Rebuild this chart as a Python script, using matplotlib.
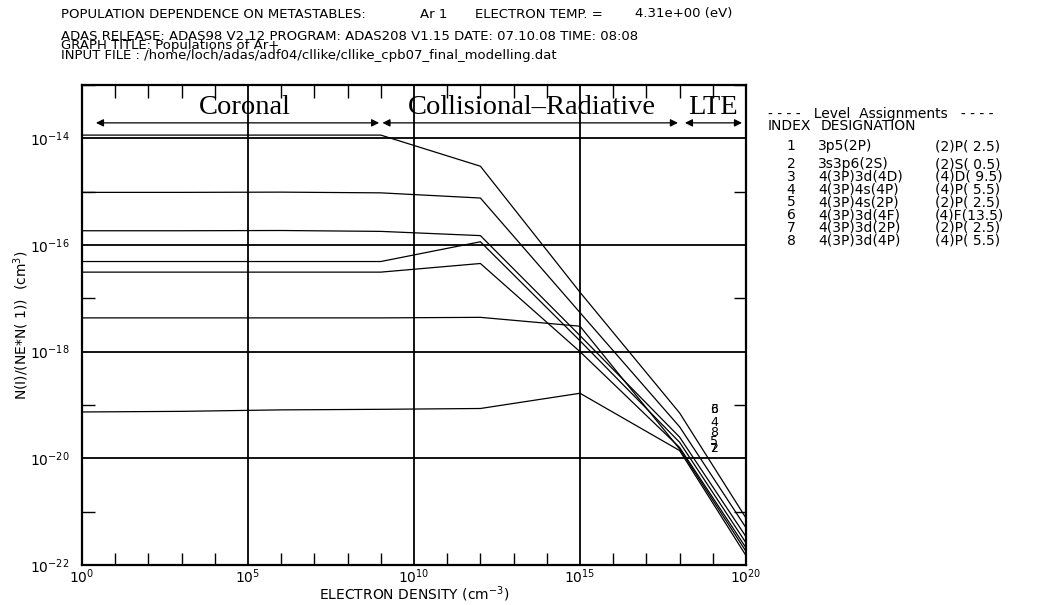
import numpy as np
import matplotlib
matplotlib.use('agg')
import matplotlib.pyplot as plt
from matplotlib.ticker import FixedLocator, NullFormatter

# electron density grid (cm-3)
dens = [1e0, 1e3, 1e6, 1e9, 1e12, 1e15, 1e18, 1e20]

# N(i)/(Ne*N(1)) for levels 2..8
pop_6 = [1.15e-14, 1.15e-14, 1.15e-14, 1.15e-14, 3.0e-15, 1.3e-17, 7.1e-20, 7.6e-22]
pop_4 = [9.7e-16, 9.7e-16, 9.8e-16, 9.5e-16, 7.6e-16, 5.4e-18, 3.9e-20, 5.0e-22]
pop_3 = [1.85e-16, 1.85e-16, 1.87e-16, 1.8e-16, 1.5e-16, 2.0e-18, 2.5e-20, 3.4e-22]
pop_8 = [4.9e-17, 4.9e-17, 4.9e-17, 4.9e-17, 1.15e-16, 1.6e-18, 2.0e-20, 2.6e-22]
pop_5 = [3.1e-17, 3.1e-17, 3.1e-17, 3.1e-17, 4.5e-17, 1.0e-18, 1.6e-20, 2.1e-22]
pop_7 = [4.3e-18, 4.3e-18, 4.3e-18, 4.3e-18, 4.4e-18, 3.0e-18, 1.5e-20, 1.8e-22]
pop_2 = [7.4e-20, 7.6e-20, 8.1e-20, 8.3e-20, 8.6e-20, 1.66e-19, 1.4e-20, 1.5e-22]
curves = [pop_6, pop_4, pop_3, pop_8, pop_5, pop_7, pop_2]

# end-of-curve labels and where they sit
end_labels = ['6', '3', '4', '8', '5', '7', '2']
end_label_y = [8.1e-20, 8.1e-20, 4.7e-20, 3.0e-20, 2.1e-20, 1.55e-20, 1.55e-20]

level_index = ['1', '2', '3', '4', '5', '6', '7', '8']
level_config = ['3p5(2P)', '3s3p6(2S)', '4(3P)3d(4D)', '4(3P)4s(4P)', '4(3P)4s(2P)',
                '4(3P)3d(4F)', '4(3P)3d(2P)', '4(3P)3d(4P)']
level_term = ['(2)P( 2.5)', '(2)S( 0.5)', '(4)D( 9.5)', '(4)P( 5.5)', '(2)P( 2.5)',
              '(4)F(13.5)', '(2)P( 2.5)', '(4)P( 5.5)']

sans = 'DejaVu Sans'
serif = 'Liberation Serif'
W, H = 1050, 605


def fx(px):
    return px / W


def fy(py):
    return 1 - py / H


fig = plt.figure(figsize=(10.5, 6.05), dpi=100)
ax = fig.add_axes([fx(82), fy(565), 664 / W, 480 / H])

for c in curves:
    ax.plot(dens, c, color='black', lw=0.9)

ax.set_xscale('log')
ax.set_yscale('log')
ax.set_xlim(1e0, 1e20)
ax.set_ylim(1e-22, 1e-13)

# grid lines
for gx in [1e5, 1e10, 1e15]:
    ax.axvline(gx, color='black', lw=1.3)
for gy in [1e-14, 1e-16, 1e-18, 1e-20]:
    ax.axhline(gy, color='black', lw=1.3)

for s in ax.spines.values():
    s.set_linewidth(1.6)

ax.xaxis.set_major_locator(FixedLocator([1e0, 1e5, 1e10, 1e15, 1e20]))
ax.xaxis.set_minor_locator(FixedLocator([10.0 ** k for k in range(21)]))
ax.xaxis.set_minor_formatter(NullFormatter())
ax.yaxis.set_major_locator(FixedLocator([1e-22, 1e-20, 1e-18, 1e-16, 1e-14]))
ax.yaxis.set_minor_locator(FixedLocator([10.0 ** k for k in range(-22, -12)]))
ax.yaxis.set_minor_formatter(NullFormatter())
ax.tick_params(which='both', direction='in', top=True, right=True, width=1.0)
ax.tick_params(which='major', length=0, labelsize=10)
ax.tick_params(axis='x', which='major', pad=2)
ax.tick_params(axis='y', which='major', pad=9)
ax.tick_params(which='minor', length=9)

fig.text(fx(414), fy(594), 'ELECTRON DENSITY (cm$^{-3}$)', fontsize=10, family=sans,
         ha='center', va='center')
fig.text(fx(21), fy(325), 'N(I)/(NE*N( 1))  (cm$^{3}$)', fontsize=10, family=sans,
         ha='center', va='center', rotation=90)

# regime annotations
arrow_y = 10 ** -13.71
text_y = 10 ** -13.43
regimes = ['Coronal', 'Collisional\u2013Radiative', 'LTE']
regime_span = [(10 ** 0.42, 10 ** 8.95), (10 ** 9.05, 10 ** 17.95), (10 ** 18.16, 10 ** 19.88)]
regime_text_x = [10 ** 4.9, 10 ** 13.55, 10 ** 19.0]
for name, (x0, x1), xt in zip(regimes, regime_span, regime_text_x):
    ax.annotate('', xy=(x0, arrow_y), xytext=(x1, arrow_y),
                arrowprops=dict(arrowstyle='<|-|>', color='black', lw=0.9,
                                mutation_scale=11, shrinkA=0, shrinkB=0))
    ax.text(xt, text_y, name, ha='center', va='center', fontsize=20.5, family=serif)

for lab, yy in zip(end_labels, end_label_y):
    ax.text(10 ** 19.04, yy, lab, ha='center', va='center', fontsize=9, family=sans)

# header text
hs = 9.5
fig.text(fx(61), fy(14), 'POPULATION DEPENDENCE ON METASTABLES:', fontsize=hs, family=sans, va='center')
fig.text(fx(420), fy(14), 'Ar 1', fontsize=hs, family=sans, va='center')
fig.text(fx(475), fy(14), 'ELECTRON TEMP. =', fontsize=hs, family=sans, va='center')
fig.text(fx(635), fy(14), '4.31e+00 (eV)', fontsize=hs, family=sans, va='center')
fig.text(fx(61), fy(36), 'ADAS RELEASE: ADAS98 V2.12 PROGRAM: ADAS208 V1.15 DATE: 07.10.08 TIME: 08:08',
         fontsize=hs, family=sans, va='center')
fig.text(fx(61), fy(45.5), 'GRAPH TITLE: Populations of Ar+', fontsize=hs, family=sans, va='center')
fig.text(fx(61), fy(55.5), 'INPUT FILE : /home/loch/adas/adf04/cllike/cllike_cpb07_final_modelling.dat',
         fontsize=hs, family=sans, va='center')

# level assignment table
ls = 10
fig.text(fx(768), fy(114), '- - - -   Level  Assignments   - - - -', fontsize=ls, family=sans, va='center')
fig.text(fx(768), fy(126), 'INDEX', fontsize=ls, family=sans, va='center')
fig.text(fx(868), fy(126), 'DESIGNATION', fontsize=ls, family=sans, va='center', ha='center')
row_y = [146] + [164 + 12.8 * k for k in range(7)]
for idx, cfg, term, ry in zip(level_index, level_config, level_term, row_y):
    fig.text(fx(791), fy(ry), idx, fontsize=ls, family=sans, va='center', ha='center')
    fig.text(fx(818), fy(ry), cfg, fontsize=ls, family=sans, va='center')
    fig.text(fx(935), fy(ry), term, fontsize=ls, family=sans, va='center')

fig.savefig('out.png', dpi=100)
